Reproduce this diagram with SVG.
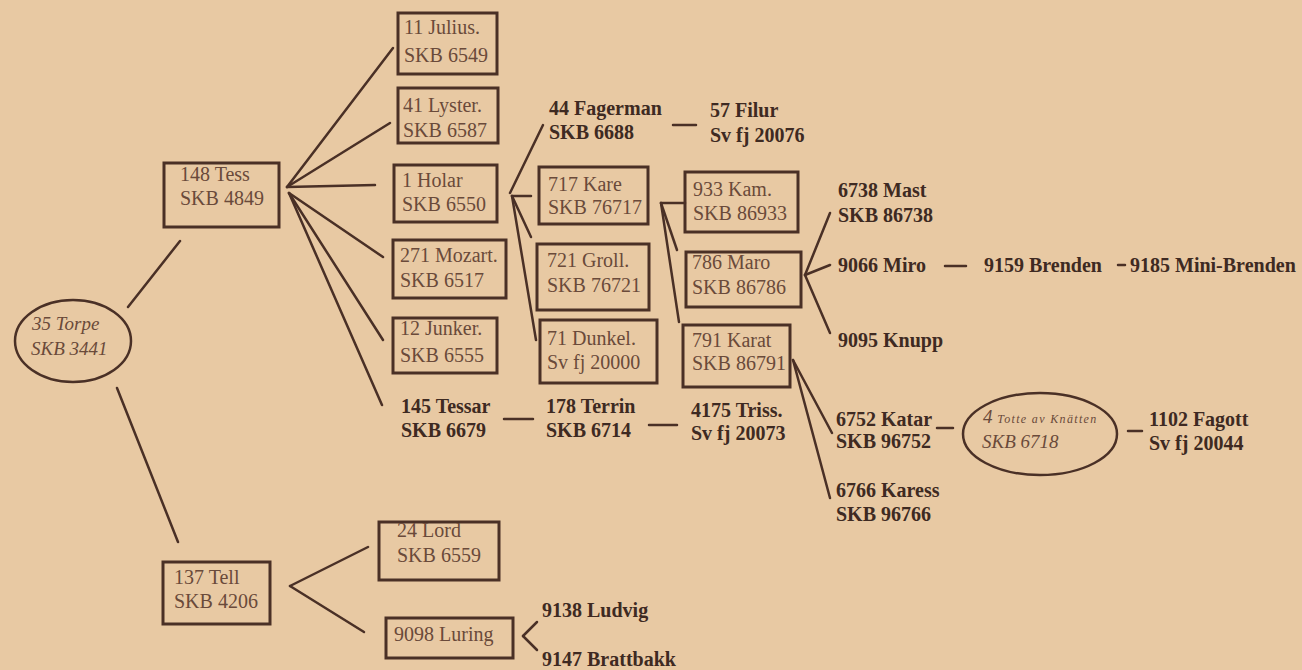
<svg xmlns="http://www.w3.org/2000/svg" width="1302" height="670" viewBox="0 0 1302 670">
<style>
.bg{fill:#e8c9a3}
.box{fill:none;stroke:#4a3026;stroke-width:3}
.ell{fill:none;stroke:#4a3026;stroke-width:2.5}
.ln{stroke:#4a3026;stroke-width:2.5;fill:none;stroke-linecap:round}
.t{font-family:"Liberation Serif","Times New Roman",serif;font-size:20px;fill:#6a4a3a}
.b{font-family:"Liberation Serif","Times New Roman",serif;font-size:20px;font-weight:bold;fill:#3e2a22}
.i{font-family:"Liberation Serif","Times New Roman",serif;font-size:19px;font-style:italic;fill:#6a4a3a}
</style>
<rect class="bg" x="0" y="0" width="1302" height="670"/>
<g id="connectors">
<line class="ln" x1="128" y1="307" x2="180" y2="241"/>
<line class="ln" x1="117" y1="388" x2="178" y2="542"/>
<line class="ln" x1="287" y1="187" x2="393" y2="48"/>
<line class="ln" x1="287" y1="187" x2="390" y2="123"/>
<line class="ln" x1="287" y1="187" x2="375" y2="185"/>
<line class="ln" x1="289" y1="193" x2="383" y2="257"/>
<line class="ln" x1="289" y1="193" x2="383" y2="340"/>
<line class="ln" x1="289" y1="193" x2="382" y2="405"/>
<line class="ln" x1="510" y1="193" x2="543" y2="125"/>
<line class="ln" x1="512" y1="196" x2="531" y2="196"/>
<line class="ln" x1="512" y1="196" x2="531" y2="237"/>
<line class="ln" x1="512" y1="196" x2="536" y2="340"/>
<line class="ln" x1="661" y1="203" x2="685" y2="203"/>
<line class="ln" x1="661" y1="203" x2="677" y2="250"/>
<line class="ln" x1="661" y1="203" x2="679" y2="322"/>
<line class="ln" x1="805" y1="275" x2="830" y2="213"/>
<line class="ln" x1="805" y1="275" x2="830" y2="265"/>
<line class="ln" x1="805" y1="275" x2="830" y2="333"/>
<line class="ln" x1="793" y1="360" x2="832" y2="433"/>
<line class="ln" x1="793" y1="360" x2="830" y2="498"/>
<line class="ln" x1="290" y1="586" x2="368" y2="547"/>
<line class="ln" x1="290" y1="586" x2="364" y2="632"/>
<line class="ln" x1="523" y1="636" x2="537" y2="622"/>
<line class="ln" x1="523" y1="636" x2="537" y2="650"/>
<line class="ln" x1="673" y1="125" x2="696" y2="125"/>
<line class="ln" x1="504" y1="419" x2="533" y2="419"/>
<line class="ln" x1="649" y1="425" x2="677" y2="425"/>
<line class="ln" x1="945" y1="266" x2="966" y2="266"/>
<line class="ln" x1="1118" y1="265" x2="1125" y2="265"/>
<line class="ln" x1="937" y1="428" x2="953" y2="428"/>
<line class="ln" x1="1128" y1="431" x2="1142" y2="431"/>
</g>
<g id="torpe"><ellipse class="ell" cx="73" cy="341" rx="58" ry="41"/><text class="i" x="32" y="330">35 Torpe</text><text class="i" x="31" y="355">SKB 3441</text></g>
<g id="tess"><rect class="box" x="164" y="163" width="115" height="64"/><text class="t" x="180" y="181">148 Tess</text><text class="t" x="180" y="205">SKB 4849</text></g>
<g id="tell"><rect class="box" x="163" y="562" width="107" height="62"/><text class="t" x="174" y="584">137 Tell</text><text class="t" x="174" y="608">SKB 4206</text></g>
<g id="julius"><rect class="box" x="398" y="13" width="99" height="61"/><text class="t" x="404" y="34">11 Julius.</text><text class="t" x="404" y="62">SKB 6549</text></g>
<g id="lyster"><rect class="box" x="398" y="88" width="100" height="55"/><text class="t" x="403" y="112">41 Lyster.</text><text class="t" x="403" y="137">SKB 6587</text></g>
<g id="holar"><rect class="box" x="394" y="165" width="103" height="57"/><text class="t" x="402" y="187">1 Holar</text><text class="t" x="402" y="211">SKB 6550</text></g>
<g id="mozart"><rect class="box" x="393" y="240" width="113" height="58"/><text class="t" x="400" y="262">271 Mozart.</text><text class="t" x="400" y="287">SKB 6517</text></g>
<g id="junker"><rect class="box" x="393" y="318" width="104" height="55"/><text class="t" x="400" y="335">12 Junker.</text><text class="t" x="400" y="362">SKB 6555</text></g>
<g id="tessar"><text class="b" x="401" y="413">145 Tessar</text><text class="b" x="401" y="437">SKB 6679</text></g>
<g id="fagerman"><text class="b" x="549" y="115">44 Fagerman</text><text class="b" x="549" y="139">SKB 6688</text></g>
<g id="filur"><text class="b" x="710" y="117">57 Filur</text><text class="b" x="710" y="142">Sv fj 20076</text></g>
<g id="kare"><rect class="box" x="539" y="167" width="109" height="57"/><text class="t" x="548" y="191">717 Kare</text><text class="t" x="548" y="214">SKB 76717</text></g>
<g id="groll"><rect class="box" x="537" y="244" width="112" height="66"/><text class="t" x="547" y="267">721 Groll.</text><text class="t" x="547" y="292">SKB 76721</text></g>
<g id="dunkel"><rect class="box" x="540" y="320" width="117" height="63"/><text class="t" x="547" y="345">71 Dunkel.</text><text class="t" x="547" y="369">Sv fj 20000</text></g>
<g id="terrin"><text class="b" x="546" y="413">178 Terrin</text><text class="b" x="546" y="437">SKB 6714</text></g>
<g id="triss"><text class="b" x="691" y="417">4175 Triss.</text><text class="b" x="691" y="440">Sv fj 20073</text></g>
<g id="kam"><rect class="box" x="685" y="172" width="113" height="60"/><text class="t" x="693" y="196">933 Kam.</text><text class="t" x="693" y="220">SKB 86933</text></g>
<g id="maro"><rect class="box" x="686" y="252" width="115" height="55"/><text class="t" x="692" y="269">786 Maro</text><text class="t" x="692" y="294">SKB 86786</text></g>
<g id="karat"><rect class="box" x="683" y="325" width="107" height="62"/><text class="t" x="692" y="347">791 Karat</text><text class="t" x="692" y="370">SKB 86791</text></g>
<g id="mast"><text class="b" x="838" y="197">6738 Mast</text><text class="b" x="838" y="222">SKB 86738</text></g>
<g id="miro"><text class="b" x="838" y="272">9066 Miro</text></g>
<g id="brenden"><text class="b" x="984" y="272">9159 Brenden</text></g>
<g id="minibrenden"><text class="b" x="1130" y="272">9185 Mini-Brenden</text></g>
<g id="knupp"><text class="b" x="838" y="347">9095 Knupp</text></g>
<g id="katar"><text class="b" x="836" y="426">6752 Katar</text><text class="b" x="836" y="448">SKB 96752</text></g>
<g id="totte"><ellipse class="ell" cx="1040" cy="434" rx="77" ry="41"/><text class="i" x="983" y="423">4 <tspan font-size="12" textLength="99">Totte av Knätten</tspan></text><text class="i" x="982" y="448" font-size="20">SKB 6718</text></g>
<g id="fagott"><text class="b" x="1149" y="426">1102 Fagott</text><text class="b" x="1149" y="450">Sv fj 20044</text></g>
<g id="karess"><text class="b" x="836" y="497">6766 Karess</text><text class="b" x="836" y="521">SKB 96766</text></g>
<g id="lord"><rect class="box" x="379" y="522" width="120" height="58"/><text class="t" x="397" y="537">24 Lord</text><text class="t" x="397" y="562">SKB 6559</text></g>
<g id="luring"><rect class="box" x="386" y="618" width="127" height="40"/><text class="t" x="394" y="641">9098 Luring</text></g>
<g id="ludvig"><text class="b" x="542" y="617">9138 Ludvig</text></g>
<g id="brattbakk"><text class="b" x="542" y="666">9147 Brattbakk</text></g>
</svg>
